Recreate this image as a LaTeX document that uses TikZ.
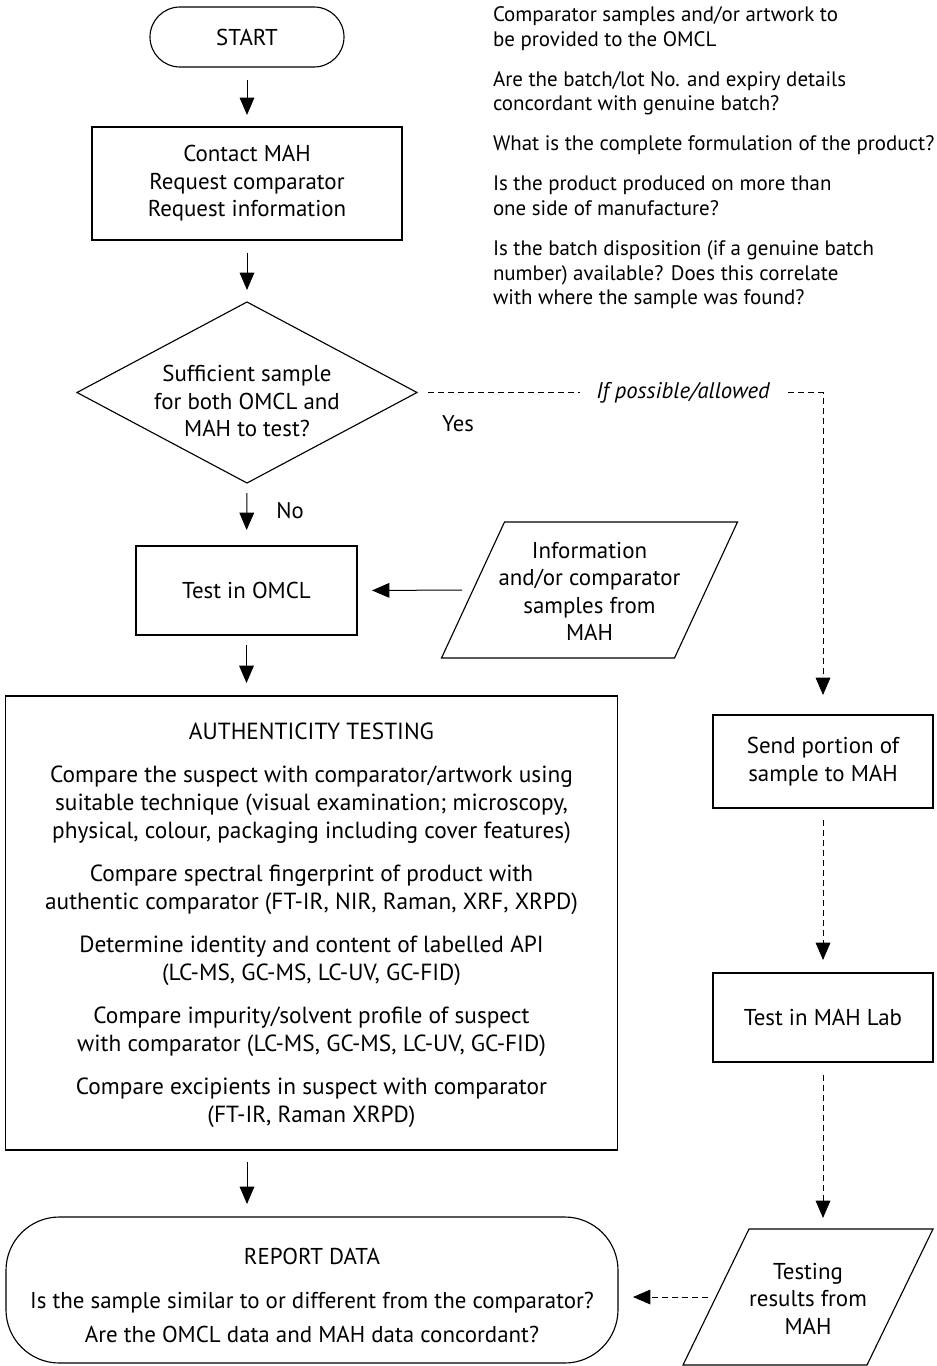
\documentclass[tikz,border=0pt]{standalone}
\usepackage{fontspec}
\setmainfont{PT Sans}
\usetikzlibrary{arrows.meta,shapes.geometric,calc}
\begin{document}
\begin{tikzpicture}[x=0.75pt,y=-0.75pt,
  every node/.style={inner sep=0pt, outer sep=0pt},
  txt/.style={align=center, font=\fontsize{17.2}{20.6}\selectfont},
  box/.style={draw, line width=0.85pt, rectangle},
  term/.style={draw, line width=0.85pt, rectangle, rounded corners=22.5pt},
  decide/.style={draw, line width=0.85pt, diamond},
  outline/.style={line width=0.85pt},
  flow/.style={line width=0.75pt, -{Triangle[length=13pt,width=11pt]}},
  dflow/.style={flow, dash pattern=on 4.5pt off 3pt},
  lbl/.style={font=\fontsize{17}{20.6}\selectfont}
]
\useasboundingbox (0,0) rectangle (937,1366);

% main column
\node[term, minimum width=145.5pt, minimum height=45pt, txt] (start) at (247,37) {START};
\node[box, minimum width=232.5pt, minimum height=84.75pt, txt] (contact) at (247,183.5)
  {Contact MAH\\Request comparator\\Request information};
\node[decide, minimum width=255pt, minimum height=135.75pt] (dec) at (247,392.5) {};
\node[txt] (dectext) at (247,401) {Sufficient sample\\for both OMCL and\\MAH to test?};
\node[box, minimum width=165.75pt, minimum height=66.75pt, txt] (omcl) at (246.5,590.5) {Test in OMCL};
\node[minimum width=222pt, minimum height=102pt] (info) at (589.5,590) {};
\draw[outline] ($(info.north west)+(63,0)$) -- (info.north east) -- ($(info.south east)+(-63,0)$) -- (info.south west) -- cycle;
\coordinate (infoL) at ($(info.west)+(31.5,0)$);
\node[txt] (infotext) at (589.5,591.5) {Information\\and/or comparator\\samples from\\MAH};
\node[box, minimum width=459pt, minimum height=340.5pt] (auth) at (311.5,923) {};
\node[align=center, font=\fontsize{17.5}{21}\selectfont] (authtext) at (311.5,925.5)
  {AUTHENTICITY TESTING\\[11.25pt]
   Compare the suspect with comparator/artwork using\\
   suitable technique (visual examination; microscopy,\\
   physical, colour, packaging including cover features)\\[11.25pt]
   Compare spectral fingerprint of product with\\
   authentic comparator (FT-IR, NIR, Raman, XRF, XRPD)\\[11.25pt]
   Determine identity and content of labelled API\\
   (LC-MS, GC-MS, LC-UV, GC-FID)\\[11.25pt]
   Compare impurity/solvent profile of suspect\\
   with comparator (LC-MS, GC-MS, LC-UV, GC-FID)\\[11.25pt]
   Compare excipients in suspect with comparator\\
   (FT-IR, Raman XRPD)};
\node[term, rounded corners=40pt, minimum width=459pt, minimum height=109.5pt] (report) at (312,1290) {};
\node[align=center, font=\fontsize{17.2}{25.5}\selectfont] (reporttext) at (312,1295)
  {REPORT DATA\\[7.5pt]
   Is the sample similar to or different from the comparator?\\
   Are the OMCL data and MAH data concordant?};

% right column
\node[box, minimum width=165pt, minimum height=69.75pt, txt] (send) at (823,761.5) {Send portion of\\sample to MAH};
\node[box, minimum width=165pt, minimum height=66.75pt, txt] (mahlab) at (823,1017.5) {Test in MAH Lab};
\node[minimum width=187.5pt, minimum height=102pt] (results) at (808,1297) {};
\draw[outline] ($(results.north west)+(66,0)$) -- (results.north east) -- ($(results.south east)+(-66,0)$) -- (results.south west) -- cycle;
\coordinate (resultsL) at ($(results.west)+(33,0)$);
\node[txt] (resultstext) at (808,1298.5) {Testing\\results from\\MAH};

% notes
\node[anchor=north west, align=left, font=\fontsize{15.7}{18.4}\selectfont] (notes) at (493,7)
  {Comparator samples and/or artwork to\\
   be provided to the OMCL\\[11.6pt]
   Are the batch/lot No. and expiry details\\
   concordant with genuine batch?\\[11.6pt]
   What is the complete formulation of the product?\\[11.6pt]
   Is the product produced on more than\\
   one side of manufacture?\\[11.6pt]
   Is the batch disposition (if a genuine batch\\
   number) available? Does this correlate\\
   with where the sample was found?};

% labels
\node[lbl] (yes) at (458,424) {Yes};
\node[lbl] (no) at (290,511) {No};

% connectors
\draw[flow, shorten <=9.75pt, shorten >=9pt] (start.south) -- (contact.north);
\draw[flow, shorten <=9.75pt, shorten >=9pt] (contact.south) -- (dec.north);
\draw[flow, shorten <=7.5pt, shorten >=12pt] (dec.south) -- (omcl.north);
\draw[flow, shorten <=7.5pt, shorten >=9.75pt] (omcl.south) -- (auth.north -| omcl.south);
\draw[flow, shorten <=9pt, shorten >=9.75pt] (auth.south -| start.south) -- (report.north -| start.south);
\draw[flow, shorten <=8.25pt, shorten >=11.25pt] (infoL) -- (omcl.east);
\draw[dflow, shorten <=8.25pt, shorten >=15pt] (dec.east) -- (dec.east -| send.north)
  node[pos=0.655, fill=white, inner xsep=12pt, inner ysep=2pt, font=\itshape\fontsize{17}{20.6}\selectfont] (cond) {If possible/allowed}
  -- (send.north);
\draw[dflow, shorten <=9pt, shorten >=9.75pt] (send.south) -- (mahlab.north);
\draw[dflow, shorten <=9.75pt, shorten >=8.25pt] (mahlab.south) -- (results.north -| mahlab.south);
\draw[dflow, shorten <=6pt, shorten >=11.25pt] (resultsL) -- (resultsL -| report.east);
\end{tikzpicture}
\end{document}
